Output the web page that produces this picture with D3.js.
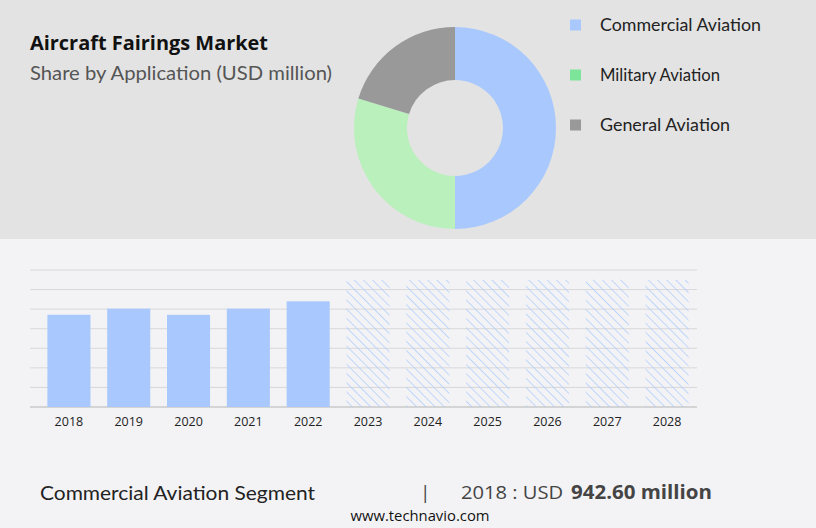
<!DOCTYPE html>
<html><head><meta charset="utf-8">
<script src="https://cdn.jsdelivr.net/npm/d3@7"></script>
<style>body{margin:0;padding:0;background:#f3f3f5}svg{display:block}</style>
</head><body>
<svg id="c" width="816" height="528"></svg>
<script>
const years = ["2018","2019","2020","2021","2022","2023","2024","2025","2026","2027","2028"];
const values = [942.6, 1005, 942, 1005, 1080, 1300, 1300, 1300, 1300, 1300, 1300];
const forecastFrom = "2023";
const yTicks = [0,200,400,600,800,1000,1200,1400];
const segments = ["Commercial Aviation","Military Aviation","General Aviation"];
const shares = [50, 29.7, 20.3];
const donutColors = ["#a9c9fe","#b9f0bb","#999999"];
const legendColors = ["#a9c9fe","#7de59a","#999999"];
const legendWidths = [161, 120, 130];

const svg = d3.select("#c");
svg.append("rect").attr("x",0).attr("y",0).attr("width",816).attr("height",528).attr("fill","#f3f3f5");
svg.append("rect").attr("x",0).attr("y",0).attr("width",816).attr("height",239).attr("fill","#e3e3e3");

const defs = svg.append("defs");
const pat = defs.append("pattern").attr("id","hatch").attr("patternUnits","userSpaceOnUse")
  .attr("width",6.5).attr("height",6.5).attr("patternTransform","rotate(-45)");
pat.append("line").attr("x1",0).attr("y1",0).attr("x2",0).attr("y2",6.5)
  .attr("stroke","#b0cdfc").attr("stroke-width",1.5);

// Title
svg.append("text").attr("x",30).attr("y",50).attr("font-family","Open Sans, sans-serif")
  .attr("font-weight","bold").attr("font-size",19.5).attr("fill","#111")
  .attr("textLength",238).attr("lengthAdjust","spacingAndGlyphs").text("Aircraft Fairings Market");
svg.append("text").attr("x",30).attr("y",80).attr("font-family","Lato, sans-serif")
  .attr("font-size",19).attr("fill","#555").attr("textLength",302).attr("lengthAdjust","spacingAndGlyphs")
  .text("Share by Application (USD million)");

// Donut
const pie = d3.pie().sort(null).value(d=>d);
const arc = d3.arc().innerRadius(48).outerRadius(101);
const g = svg.append("g").attr("transform","translate(455,128)");
g.selectAll("path").data(pie(shares)).join("path").attr("d",arc).attr("fill",(d,i)=>donutColors[i]);

// Legend
const lg = svg.append("g");
segments.forEach((s,i)=>{
  const y = 25 + i*50;
  lg.append("rect").attr("x",570).attr("y",y-5.5).attr("width",11).attr("height",11).attr("fill",legendColors[i]);
  lg.append("text").attr("x",600).attr("y",y+5.5).attr("font-family","Lato, sans-serif")
    .attr("font-size",16.5).attr("fill","#222")
    .attr("textLength",legendWidths[i]).attr("lengthAdjust","spacingAndGlyphs").text(s);
});

// Bars
const x = d3.scaleBand().domain(years).range([39,697]).paddingInner(0.28).paddingOuter(0.14);
const y = d3.scaleLinear().domain([0,1400]).range([407,270]);
const grid = svg.append("g");
yTicks.forEach(t=>{
  grid.append("line").attr("x1",30).attr("x2",697).attr("y1",y(t)).attr("y2",y(t))
    .attr("stroke", t===0 ? "#b5b5b5" : "#d8d8da").attr("stroke-width", t===0?1.2:1);
});
const fi = years.indexOf(forecastFrom);
svg.append("g").selectAll("rect").data(years).join("rect")
  .attr("x",d=>x(d)).attr("width",x.bandwidth())
  .attr("y",(d,i)=>y(values[i])).attr("height",(d,i)=>y(0)-y(values[i]))
  .attr("fill",(d,i)=> i>=fi ? "url(#hatch)" : "#a9c9fe");

const ax = svg.append("g").attr("transform","translate(0,407)")
  .call(d3.axisBottom(x).tickSize(0).tickPadding(10));
ax.select(".domain").remove();
ax.selectAll("text").attr("font-family","Open Sans, sans-serif").attr("font-size",12.5).attr("fill","#222");

// Bottom
svg.append("text").attr("x",40).attr("y",500).attr("font-family","Lato, sans-serif")
  .attr("font-size",19).attr("fill","#222").attr("textLength",275).attr("lengthAdjust","spacingAndGlyphs")
  .text("Commercial Aviation Segment");
svg.append("text").attr("x",420).attr("y",499).attr("font-family","Open Sans, sans-serif")
  .attr("font-size",19).attr("fill","#444").text("|");
svg.append("text").attr("x",461).attr("y",499).attr("font-family","Open Sans, sans-serif")
  .attr("font-size",19).attr("fill","#444").attr("textLength",102).attr("lengthAdjust","spacingAndGlyphs")
  .text("2018 : USD");
svg.append("text").attr("x",571).attr("y",499).attr("font-family","Open Sans, sans-serif")
  .attr("font-size",19).attr("font-weight","bold").attr("fill","#444").attr("textLength",141).attr("lengthAdjust","spacingAndGlyphs")
  .text("942.60 million");
svg.append("text").attr("x",420).attr("y",521).attr("text-anchor","middle").attr("font-family","Open Sans, sans-serif")
  .attr("font-size",14).attr("fill","#111").attr("textLength",139).attr("lengthAdjust","spacingAndGlyphs").text("www.technavio.com");
</script>
</body></html>
